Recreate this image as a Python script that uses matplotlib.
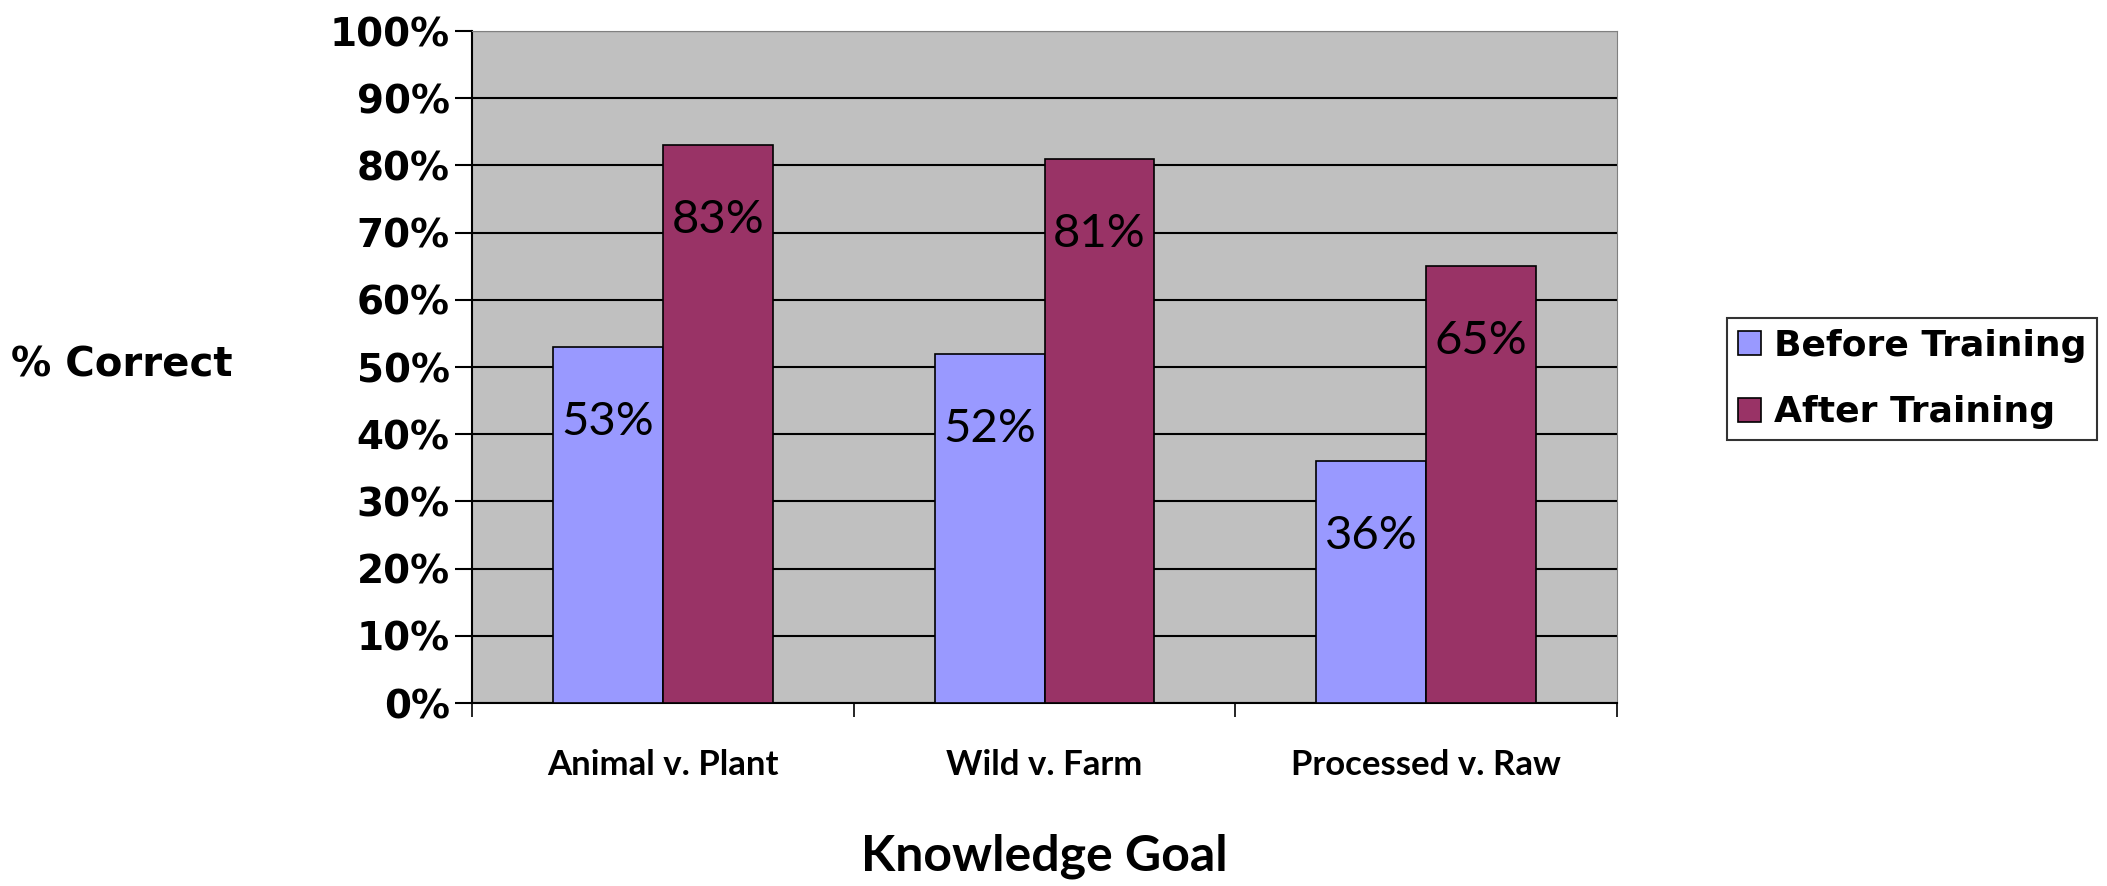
import numpy as np
import matplotlib.pyplot as plt
from matplotlib.ticker import FixedLocator, PercentFormatter

categories = ["Animal v. Plant", "Wild v. Farm", "Processed v. Raw"]
before = [53, 52, 36]
after = [83, 81, 65]
series_names = ["Before Training", "After Training"]
yticks = list(range(0, 101, 10))

BEFORE_COLOR = "#9999FF"
AFTER_COLOR = "#993366"

fig = plt.figure(figsize=(21.07, 8.86), dpi=100)
ax = fig.add_axes([0.224, 0.2065, 0.5435, 0.7585])
ax.set_facecolor("#C0C0C0")

x = np.arange(len(categories))
w = 0.2877
b1 = ax.bar(x - w / 2, before, w, color=BEFORE_COLOR, edgecolor="black", linewidth=1.2,
            label=series_names[0], zorder=3)
b2 = ax.bar(x + w / 2, after, w, color=AFTER_COLOR, edgecolor="black", linewidth=1.2,
            label=series_names[1], zorder=3)

for bars in (b1, b2):
    for rect in bars:
        h = rect.get_height()
        ax.annotate(f"{h:.0f}%", (rect.get_x() + rect.get_width() / 2, h),
                    xytext=(0, -54), textcoords="offset points", ha="center", va="center",
                    fontsize=34, family="Lato", zorder=4)

ax.set_ylim(0, 100)
ax.set_xlim(-0.5, len(categories) - 0.5)
ax.set_yticks(yticks)
ax.yaxis.set_major_formatter(PercentFormatter(decimals=0))
ax.yaxis.grid(True, color="black", linewidth=1.5, zorder=1)
ax.set_axisbelow(True)

ax.set_xticks(x)
ax.set_xticklabels(categories, fontsize=25, fontweight="bold", family="Lato")
ax.tick_params(axis="x", which="major", length=0, pad=33)
ax.xaxis.set_minor_locator(FixedLocator(np.arange(-0.5, len(categories), 1.0)))
ax.tick_params(axis="x", which="minor", length=10, width=1.2, direction="out")
ax.tick_params(axis="y", length=12, width=1.5, pad=4)
for lab in ax.get_yticklabels():
    lab.set_fontsize(28)
    lab.set_fontweight("bold")

for s in ("top", "right"):
    ax.spines[s].set_color("#808080")
ax.spines["left"].set_linewidth(1.5)
ax.spines["bottom"].set_linewidth(1.5)

fig.text(0.005, 0.588, "% Correct", fontsize=29, fontweight="bold", ha="left", va="center")
fig.text(0.4955, 0.034, "Knowledge Goal", fontsize=36, fontweight="bold", family="Lato",
         ha="center", va="center")

leg = fig.legend(handles=[b1, b2], labels=series_names, loc="upper left",
                 bbox_to_anchor=(0.8197, 0.641), borderaxespad=0, frameon=True,
                 fancybox=False, edgecolor="black", prop={"size": 26, "weight": "bold"},
                 handlelength=0.65, handleheight=0.65, handletextpad=0.35,
                 labelspacing=0.9, borderpad=0.3)
leg.get_frame().set_linewidth(1.5)

fig.savefig("out.png", dpi=100, facecolor="white")
